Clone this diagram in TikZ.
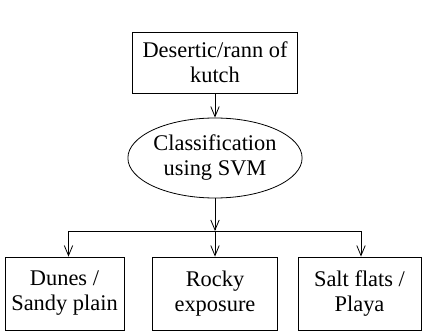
\documentclass[tikz,border=0pt]{standalone}
\usepackage{fontspec}
\setmainfont{Liberation Serif}
\usetikzlibrary{positioning,arrows.meta,shapes.geometric}

\begin{document}
\begin{tikzpicture}
		[x=1pt,y=1pt,
		every node/.style={font=\fontsize{11.2}{12.5}\selectfont,align=center,inner sep=0pt},
		box/.style={draw,rectangle,minimum height=36.5pt},
		tips/.style={-{Straight Barb[length=5pt,width=4.2pt]}}]
		\useasboundingbox (0,0) rectangle (211,-165.5);
		\node[draw,minimum width=82.5pt,minimum height=30.5pt] (src) at (107.5,-31.25) {Desertic/rann of\\kutch};
		\node[draw,ellipse,minimum width=81.5pt,minimum height=40pt] (svm) at (107.5,-79) {Classification\\using SVM};
		\node[box,minimum width=59.5pt] (dunes) at (32.25,-146.75) {Dunes /\\Sandy plain};
		\node[box,minimum width=62.5pt] (rocky) at (107.5,-146.75) {Rocky\\exposure};
		\node[box,minimum width=61.5pt] (salt) at (179.75,-146.75) {Salt flats /\\Playa};
		\coordinate (split) at (107.5,-115.5);
		\draw[tips] (src) -- (svm);
		\draw[tips] (svm) -- (split);
		\draw[tips] (split) -- (rocky);
		\draw[tips] (split) -| ([xshift=2pt]dunes.north);
		\draw[tips] (split) -| ([xshift=.75pt]salt.north);
\end{tikzpicture}
\end{document}
